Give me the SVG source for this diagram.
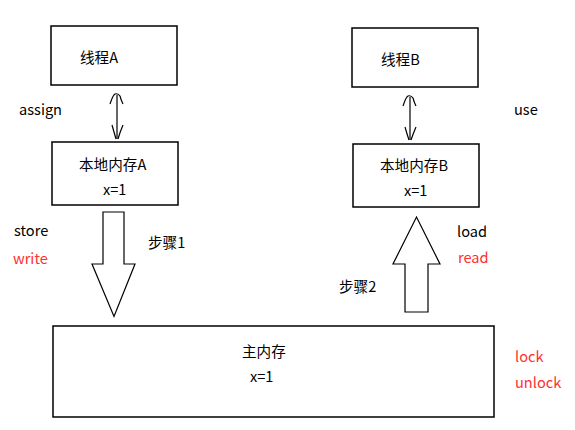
<svg xmlns="http://www.w3.org/2000/svg" width="575" height="430" viewBox="0 0 575 430">
<style>
.box{fill:#fff;stroke:#000;stroke-width:1.5}
.ln{fill:none;stroke:#000;stroke-width:1.2}
.blk{fill:#fff;stroke:#000;stroke-width:1.2;stroke-linejoin:miter}
text{font-family:"Microsoft YaHei","Noto Sans CJK SC","Noto Sans",sans-serif;font-size:14.6px;fill:#000;dominant-baseline:central}
.red{fill:#ff3030}
</style>
<rect width="575" height="430" fill="#fff"/>
<g id="threadA">
<rect class="box" x="51" y="26" width="126" height="59"/>
<text x="80" y="56.5">线程A</text>
</g>
<g id="localA">
<rect class="box" x="52" y="142" width="126" height="63"/>
<text x="79" y="163.5">本地内存A</text>
<text x="103" y="188.5">x=1</text>
</g>
<g id="threadB">
<rect class="box" x="352" y="28" width="126" height="59"/>
<text x="381" y="58.5">线程B</text>
</g>
<g id="localB">
<rect class="box" x="353" y="144" width="126" height="63"/>
<text x="380" y="164.5">本地内存B</text>
<text x="404" y="189.5">x=1</text>
</g>
<g id="mainMem">
<rect class="box" x="53" y="326" width="441" height="91"/>
<text x="242" y="350.5">主内存</text>
<text x="250" y="375.5">x=1</text>
</g>
<g id="connectors">
<path class="ln" d="M117 95 V139"/>
<path class="ln" d="M110 104 Q113 95 115 94 Q118 93 120 96 Q121 100 123 104"/>
<path class="ln" d="M112 125 Q114 132 116 139 M123 125 Q120 132 118 139"/>
<path class="ln" d="M410 97 V140"/>
<path class="ln" d="M403 106 Q406 97 408 96 Q411 95 413 98 Q414 102 416 106"/>
<path class="ln" d="M405 127 Q407 134 409 140 M416 127 Q413 134 411 140"/>
<path class="blk" d="M103 212 H124 V264 H135 L114 316.5 L92 264 H103 Z"/>
<path class="blk" d="M405 312 V264 H393 L416.5 217 L440 264 H428 V312 Z"/>
</g>
<g id="labels">
<text x="19" y="108.5">assign</text>
<text x="514" y="108.5">use</text>
<text x="14" y="229.5">store</text>
<text class="red" x="13" y="257.5">write</text>
<text x="148" y="241.5">步骤1</text>
<text x="457" y="230.5">load</text>
<text class="red" x="458" y="256.5">read</text>
<text x="339" y="285.5">步骤2</text>
<text class="red" x="515" y="355.5">lock</text>
<text class="red" x="515" y="381.5">unlock</text>
</g>
</svg>
